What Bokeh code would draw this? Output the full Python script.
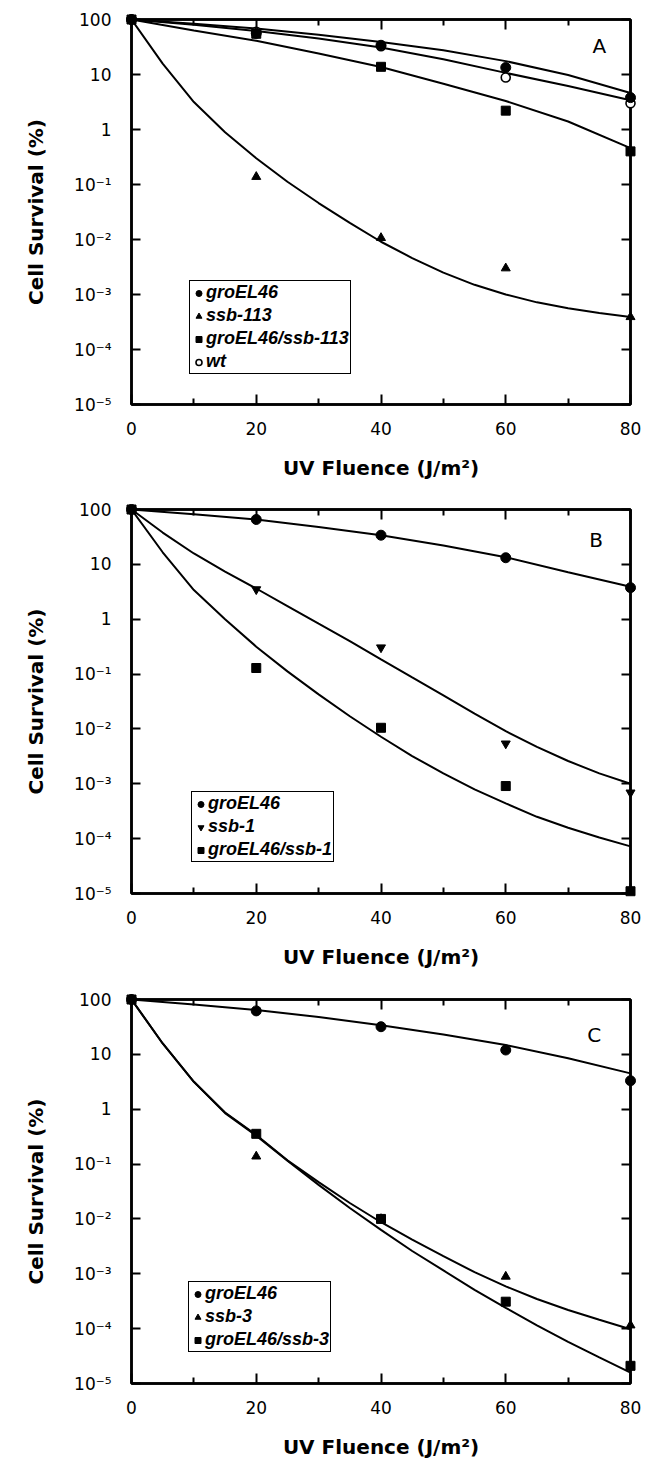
from bokeh.plotting import figure
from bokeh.models import (LinearAxis, LogAxis, FixedTicker, CustomJSTickFormatter,
                          Legend, LegendItem, Label, Range1d)
from bokeh.layouts import column
from bokeh.embed import file_html
from bokeh.resources import INLINE

# ---------------- data ----------------
dose = [0, 20, 40, 60, 80]
fit_x10 = [0, 10, 20, 30, 40, 50, 60, 70, 80]
fit_x5 = [0, 5, 10, 15, 20, 25, 30, 35, 40, 45, 50, 55, 60, 65, 70, 75, 80]

x_ticks = [0, 20, 40, 60, 80]
x_minor_ticks = [10, 30, 50, 70]
y_ticks = [1e-5, 1e-4, 1e-3, 1e-2, 1e-1, 1, 10, 100]
y_tick_labels = ["10⁻⁵", "10⁻⁴", "10⁻³", "10⁻²", "10⁻¹", "1", "10", "100"]

x_title = "UV Fluence (J/m²)"
y_title = "Cell Survival (%)"

# Panel A
a_groEL46 = [100, 56, 34, 13.4, 3.8]
a_ssb113 = [100, 0.138, 0.0107, 0.0030, 0.00039]
a_double = [100, 55, 13.8, 2.2, 0.40]
a_wt = [100, 60, 32.7, 8.8, 3.0]
a_fit_groEL46 = [100, 84, 68.5, 53, 39, 27.5, 17.5, 9.8, 4.6]
a_fit_wt = [100, 80, 62, 45, 31, 19, 10.7, 6.2, 3.4]
a_fit_double = [100, 63, 41, 24, 13.7, 6.8, 3.3, 1.4, 0.46]
a_fit_ssb113 = [100, 15.8, 3.16, 0.89, 0.30, 0.112, 0.046, 0.020, 0.0091, 0.0046,
                0.0025, 0.0015, 0.0010, 0.00072, 0.00056, 0.00046, 0.00039]

# Panel B
b_groEL46 = [100, 65.8, 34, 13.2, 3.76]
b_ssb1 = [100, 3.5, 0.305, 0.0054, 0.00069]
b_double = [100, 0.129, 0.0105, 0.00091, 0.000011]
b_fit_groEL46 = [100, 82, 66, 48, 34, 22, 13.5, 7.2, 3.9]
b_fit_ssb1 = [100, 38, 15.8, 7.4, 3.63, 1.74, 0.83, 0.40, 0.186, 0.087, 0.041,
              0.019, 0.0091, 0.0047, 0.0026, 0.00155, 0.0010]
b_fit_double = [100, 16.6, 3.4, 1.0, 0.316, 0.112, 0.0427, 0.017, 0.0072, 0.0032,
                0.00155, 0.00079, 0.00044, 0.00025, 0.000158, 0.000105, 0.0000724]

# Panel C
c_groEL46 = [100, 62, 31.9, 12, 3.3]
c_ssb3 = [100, 0.138, 0.0100, 0.00089, 0.000115]
c_double = [100, 0.356, 0.010, 0.00031, 0.000021]
c_fit_groEL46 = [100, 81, 64.6, 48, 34, 23, 14.8, 8.5, 4.5]
c_fit_ssb3 = [100, 15.8, 3.16, 0.87, 0.34, 0.117, 0.047, 0.0195, 0.0087, 0.0042,
              0.0021, 0.00107, 0.00059, 0.000347, 0.000219, 0.000145, 0.0000977]
c_fit_double = [100, 15.8, 3.16, 0.85, 0.33, 0.115, 0.0417, 0.0158, 0.0063, 0.0026,
                0.00115, 0.00051, 0.00024, 0.000115, 0.0000575, 0.000030, 0.0000158]

# ---------------- styling ----------------
TICK_FONT = "DejaVu Sans"
TITLE_FONT = "DejaVu Sans"
LEGEND_FONT = "Liberation Sans"

y_formatter_code = """
let best = -1, bd = 1e9;
for (let i = 0; i < tvals.length; i++) {
  const d = Math.abs(Math.log10(tvals[i]) - Math.log10(tick));
  if (d < bd) { bd = d; best = i; }
}
return (best >= 0 && bd < 1e-6) ? tlabels[best] : "";
"""


def style_axis(ax, tick_in, labels=True):
    ax.axis_line_width = 2.5
    ax.axis_line_color = "black"
    ax.major_tick_in = tick_in
    ax.major_tick_out = 0
    ax.minor_tick_in = 6
    ax.minor_tick_out = 0
    ax.major_tick_line_width = 2
    ax.minor_tick_line_width = 2
    ax.major_tick_line_color = "black"
    ax.minor_tick_line_color = "black"
    if not labels:
        ax.major_label_text_font_size = "1px"
        ax.major_label_text_alpha = 0
        ax.major_label_standoff = 0
    else:
        ax.major_label_text_font = TICK_FONT
        ax.major_label_text_font_size = "17px"
        ax.major_label_text_color = "black"


def make_panel(cfg):
    p = figure(width=649, height=cfg["height"],
               x_range=Range1d(0, 80), y_range=Range1d(1e-5, 100),
               y_axis_type="log", output_backend="svg", toolbar_location=None,
               min_border_left=cfg["left"], min_border_right=cfg["right"],
               min_border_top=19, min_border_bottom=cfg["bottom"])
    p.grid.visible = False
    p.outline_line_color = "black"
    p.outline_line_width = 2.5
    p.background_fill_color = "white"
    p.border_fill_color = "white"

    xa = p.xaxis[0]
    xa.ticker = FixedTicker(ticks=x_ticks, minor_ticks=x_minor_ticks)
    style_axis(xa, 10)
    xa.major_label_standoff = 17
    xa.axis_label = x_title
    xa.axis_label_text_font = TITLE_FONT
    xa.axis_label_text_font_style = "bold"
    xa.axis_label_text_font_size = "20px"
    xa.axis_label_text_color = "black"
    xa.axis_label_standoff = 18

    ya = p.yaxis[0]
    ya.ticker = FixedTicker(ticks=y_ticks, minor_ticks=[])
    ya.formatter = CustomJSTickFormatter(args=dict(tvals=y_ticks, tlabels=y_tick_labels),
                                         code=y_formatter_code)
    style_axis(ya, 9)
    ya.minor_tick_line_color = None
    ya.major_label_standoff = 20
    ya.axis_label = y_title
    ya.axis_label_text_font = TITLE_FONT
    ya.axis_label_text_font_style = "bold"
    ya.axis_label_text_font_size = "20px"
    ya.axis_label_text_color = "black"
    ya.axis_label_standoff = 23

    top = LinearAxis(ticker=FixedTicker(ticks=x_ticks, minor_ticks=x_minor_ticks))
    style_axis(top, 10, labels=False)
    p.add_layout(top, "above")
    right = LogAxis(ticker=FixedTicker(ticks=y_ticks, minor_ticks=[]))
    style_axis(right, 9, labels=False)
    right.minor_tick_line_color = None
    p.add_layout(right, "right")

    # fitted curves
    for fx, fy in cfg["fits"]:
        p.line(fx, fy, line_color="black", line_width=2)

    # data points
    renderers = {}
    for name, ys, marker, filled, size in cfg["series"]:
        if filled:
            r = p.scatter(dose, ys, marker=marker, size=size,
                          fill_color="black", line_color="black", level="overlay")
        else:
            r = p.scatter(dose, ys, marker=marker, size=size, fill_color="white",
                          line_color="black", line_width=1.6, level="overlay")
        renderers[name] = r

    items = [LegendItem(label=n, renderers=[renderers[n]]) for n in cfg["legend_order"]]
    leg = Legend(items=items, location=cfg["legend_loc"],
                 border_line_color="black", border_line_width=1.8, border_line_alpha=1.0,
                 background_fill_color="white", background_fill_alpha=1.0,
                 padding=1, spacing=2, margin=0,
                 glyph_width=15, glyph_height=20, label_standoff=0,
                 label_height=20,
                 label_text_font=LEGEND_FONT, label_text_font_style="bold italic",
                 label_text_font_size="18px", label_text_color="black")
    p.add_layout(leg)

    lx, ly = cfg["letter_pos"]
    p.add_layout(Label(x=lx, y=ly, text=cfg["letter"], text_font=TICK_FONT,
                       text_font_size="20px", text_align="center",
                       text_baseline="middle", text_color="black"))
    return p


panel_a = make_panel(dict(
    height=490, left=123, right=19, bottom=86, letter="A", letter_pos=(75, 33),
    legend_loc=(58, 30),
    fits=[(fit_x10, a_fit_groEL46), (fit_x10, a_fit_wt), (fit_x10, a_fit_double),
          (fit_x5, a_fit_ssb113)],
    series=[("wt", a_wt, "circle", False, 9),
            ("groEL46", a_groEL46, "circle", True, 10),
            ("ssb-113", a_ssb113, "triangle", True, 9),
            ("groEL46/ssb-113", a_double, "square", True, 9)],
    legend_order=["groEL46", "ssb-113", "groEL46/ssb-113", "wt"]))

panel_b = make_panel(dict(
    height=490, left=127, right=14, bottom=87, letter="B", letter_pos=(74.5, 27.5),
    legend_loc=(60, 31),
    fits=[(fit_x10, b_fit_groEL46), (fit_x5, b_fit_ssb1), (fit_x5, b_fit_double)],
    series=[("groEL46", b_groEL46, "circle", True, 10),
            ("ssb-1", b_ssb1, "inverted_triangle", True, 9),
            ("groEL46/ssb-1", b_double, "square", True, 9)],
    legend_order=["groEL46", "ssb-1", "groEL46/ssb-1"]))

panel_c = make_panel(dict(
    height=482, left=131, right=11, bottom=79, letter="C", letter_pos=(74.2, 22.4),
    legend_loc=(57, 31),
    fits=[(fit_x10, c_fit_groEL46), (fit_x5, c_fit_ssb3), (fit_x5, c_fit_double)],
    series=[("groEL46", c_groEL46, "circle", True, 10),
            ("ssb-3", c_ssb3, "triangle", True, 9),
            ("groEL46/ssb-3", c_double, "square", True, 9)],
    legend_order=["groEL46", "ssb-3", "groEL46/ssb-3"]))

layout = column(panel_a, panel_b, panel_c, spacing=0)

open("out.html", "w", encoding="utf-8").write(file_html(layout, INLINE))
